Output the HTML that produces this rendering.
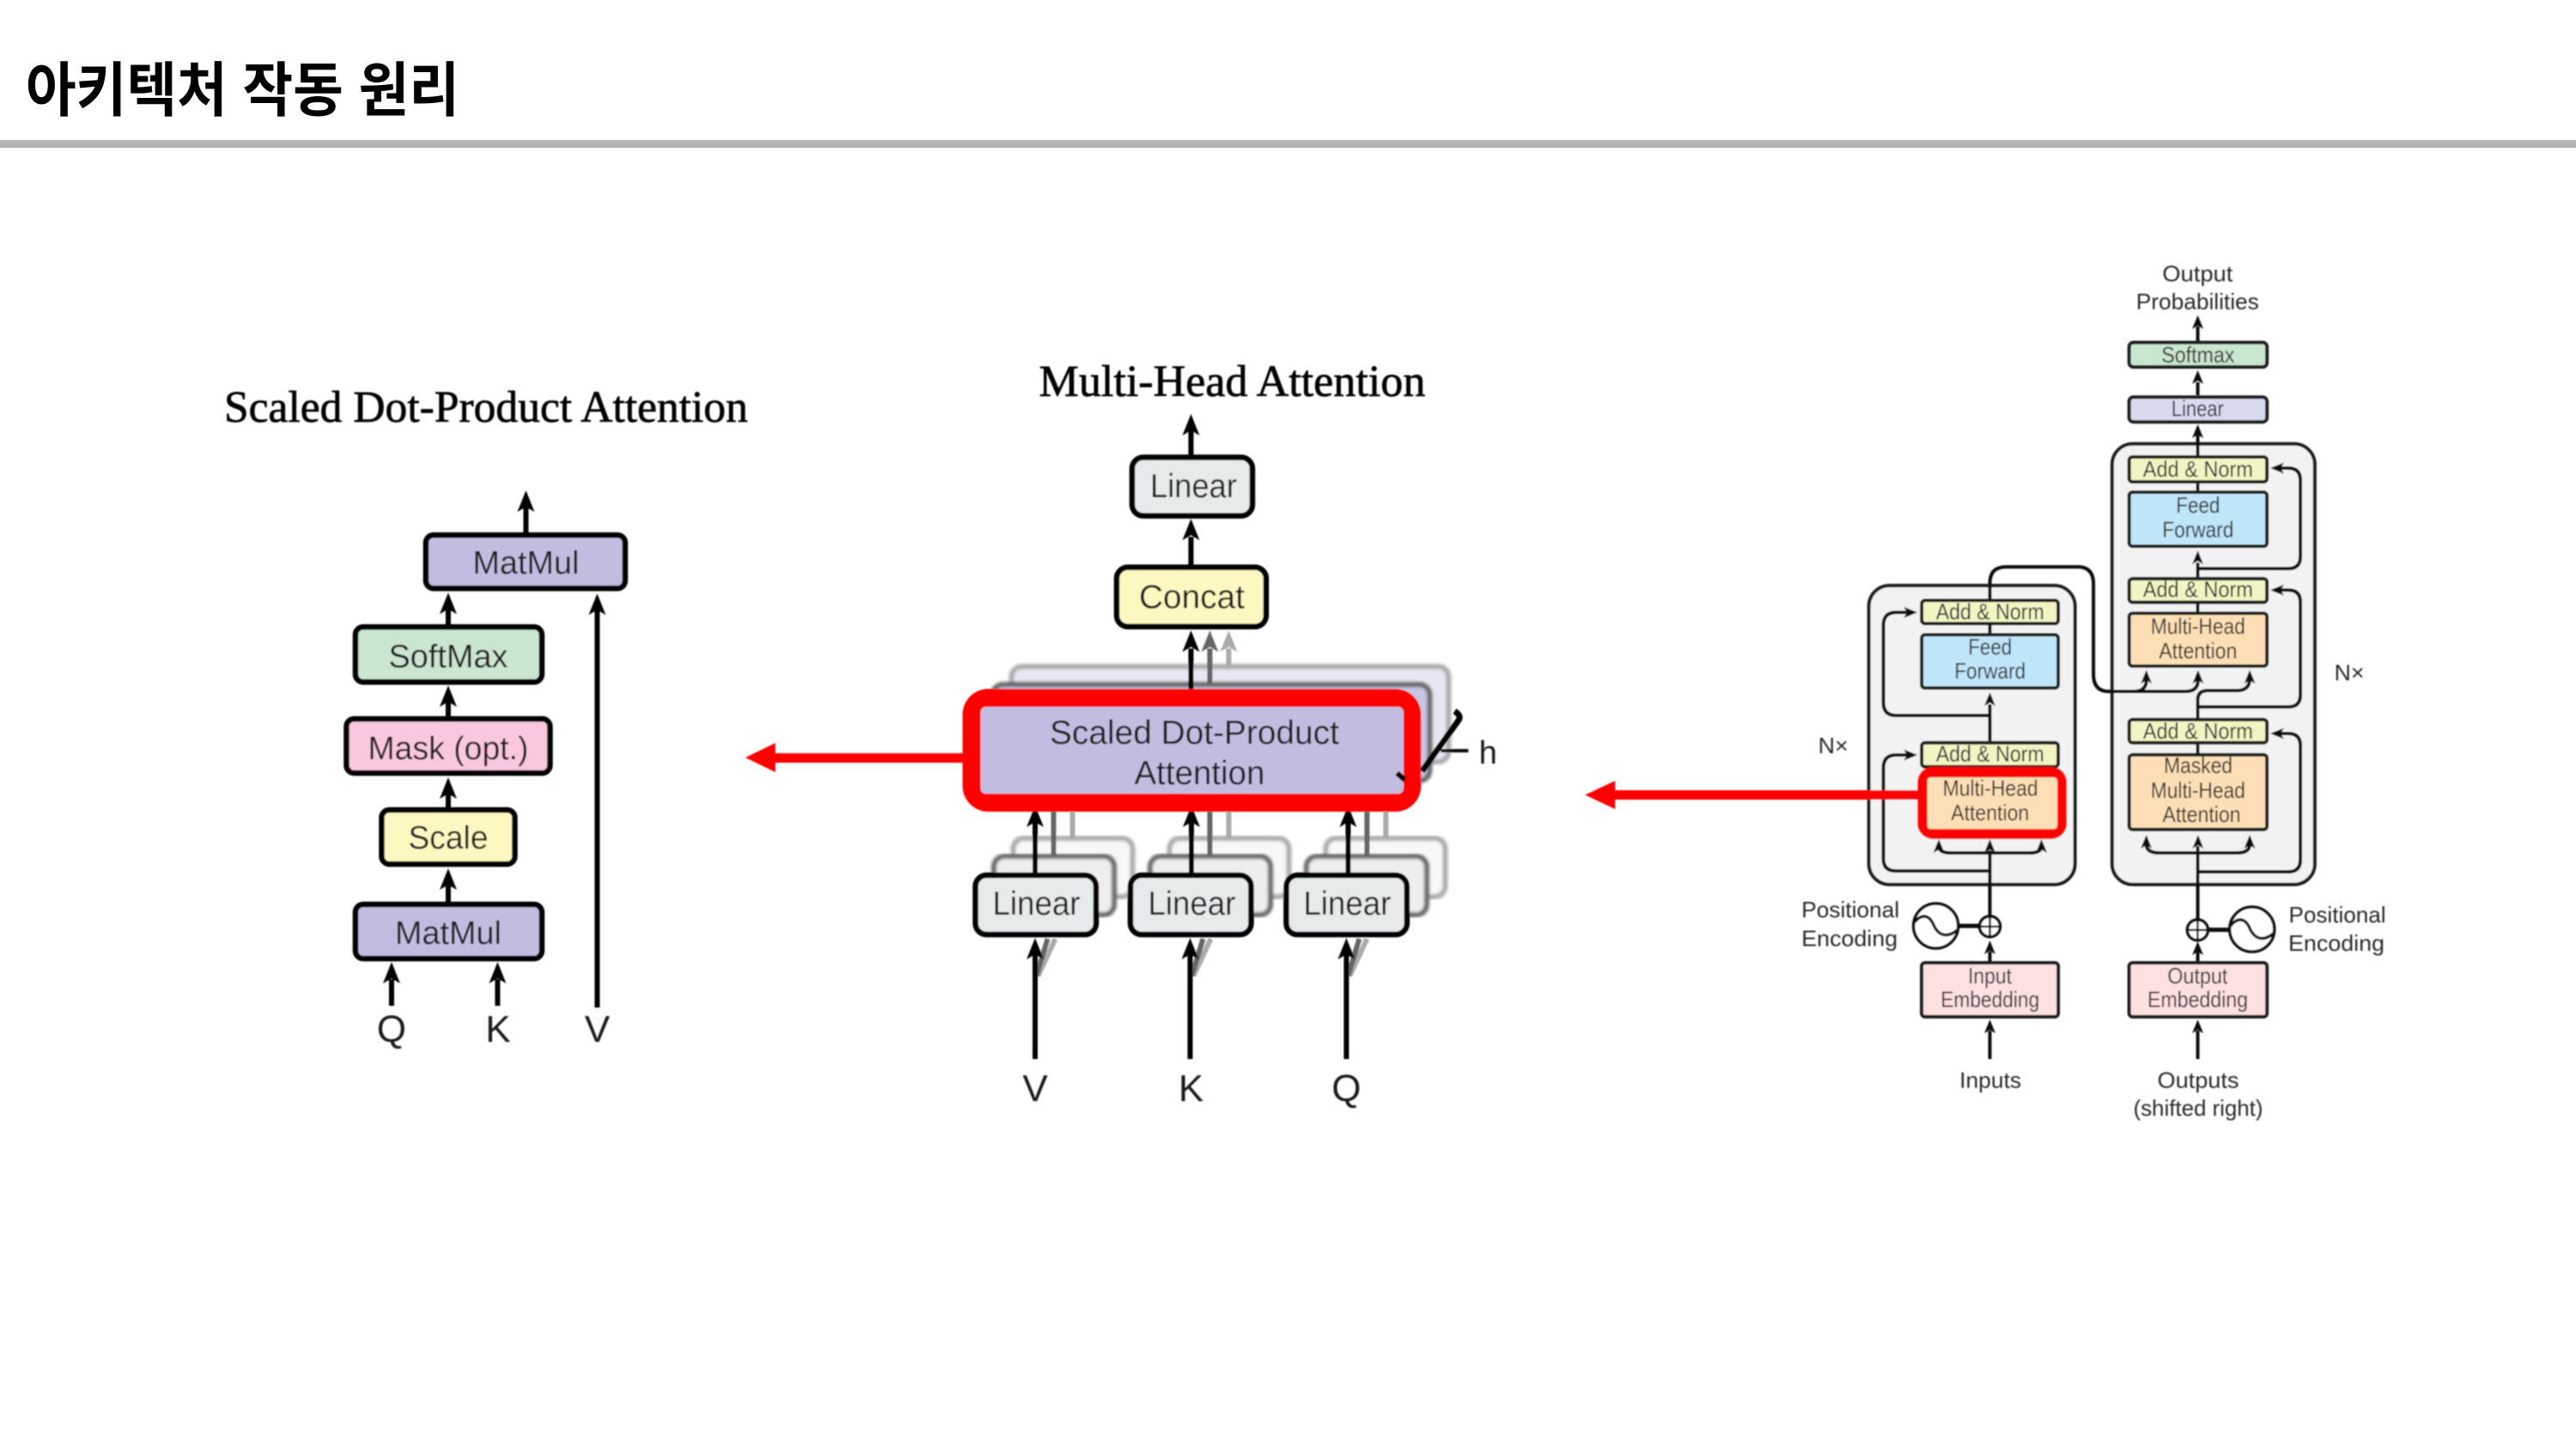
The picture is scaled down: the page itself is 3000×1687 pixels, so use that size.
<!DOCTYPE html>
<html lang="ko"><head><meta charset="utf-8"><title>아키텍처 작동 원리</title>
<style>
html,body{margin:0;padding:0;background:#fff}
svg{display:block}
text{font-family:"Liberation Sans","Noto Sans CJK KR",sans-serif;text-anchor:middle;fill:#1a1a1a}
.s{font-family:"Liberation Serif",serif;fill:#000;stroke:#000;stroke-width:.7}
.n{fill:none;stroke:#111;stroke-width:4}
.l{fill:none;stroke:#000;stroke-width:6}
.b{stroke:#000;stroke-width:6.5}
.r{stroke:#1a1a1a;stroke-width:4}
.t text{font-size:26px;fill:#2a2a2a}
</style></head><body>
<svg width="3000" height="1687" viewBox="0 0 3000 1687" xmlns="http://www.w3.org/2000/svg">
<defs>
<filter id="f" x="0" y="0" width="100%" height="100%"><feGaussianBlur stdDeviation="0.7"/></filter>
<filter id="f2" x="-5%" y="-5%" width="110%" height="110%"><feGaussianBlur stdDeviation="1.5"/></filter>
<path id="a" d="M0 0L10 25 0 19-10 25Z" fill="#000"/>
<path id="g" d="M0 0L10 25 0 19-10 25Z" fill="#666"/>
<path id="h" d="M0 0L10 25 0 19-10 25Z" fill="#aaa"/>
<path id="c" d="M0 0L6.5 16 0 12-6.5 16Z" fill="#111"/>
<path id="w" d="M-26-3C-17-15-8-13-3-2 2 10 12 16 26 4" fill="none" stroke="#111" stroke-width="3.5"/>
</defs>
<rect width="3000" height="1687" fill="#fff"/>
<text x="30" y="129" textLength="505" lengthAdjust="spacingAndGlyphs" style="text-anchor:start;font-family:'Noto Sans CJK KR','Liberation Sans',sans-serif;font-weight:700;font-size:69px;fill:#000">아키텍처 작동 원리</text>
<rect x="0" y="163" width="3000" height="9" fill="#b3b3b3"/>

<g filter="url(#f)">
<!-- LEFT -->
<text class="s" x="566" y="491" font-size="52" textLength="610" lengthAdjust="spacingAndGlyphs">Scaled Dot-Product Attention</text>
<g class="l">
<path d="M612.5 620V590M522 727V705M522 834V812M522 940V918M522 1050V1025M456 1171V1140M579.5 1171V1140M695.5 1173V710"/>
</g>
<use href="#a" x="612.5" y="571"/><use href="#a" x="522" y="690"/><use href="#a" x="522" y="798"/><use href="#a" x="522" y="905"/><use href="#a" x="522" y="1011"/><use href="#a" x="456" y="1120"/><use href="#a" x="579.5" y="1120"/><use href="#a" x="695.5" y="691"/>
<rect class="b" x="496" y="623" width="232" height="62" rx="9" fill="#c2bde0"/>
<rect class="b" x="414" y="730" width="217" height="64" rx="9" fill="#cbe6d0"/>
<rect class="b" x="403.500" y="837" width="237" height="63" rx="9" fill="#f9c8de"/>
<rect class="b" x="444.500" y="943" width="155" height="63" rx="9" fill="#fdf8c2"/>
<rect class="b" x="414" y="1053" width="217" height="63" rx="9" fill="#c2bde0"/>
<g font-size="38">
<text x="612.500" y="668" textLength="124" lengthAdjust="spacingAndGlyphs">MatMul</text>
<text x="522" y="777" textLength="139" lengthAdjust="spacingAndGlyphs">SoftMax</text>
<text x="522" y="884" textLength="187" lengthAdjust="spacingAndGlyphs">Mask (opt.)</text>
<text x="522" y="988" textLength="93" lengthAdjust="spacingAndGlyphs">Scale</text>
<text x="522" y="1099" textLength="124" lengthAdjust="spacingAndGlyphs">MatMul</text>
</g>
<g font-size="44">
<text x="456" y="1213">Q</text><text x="580" y="1213">K</text><text x="695.500" y="1213">V</text>
</g>
<rect x="900" y="877" width="225" height="11" fill="#f00"/>
<path d="M868 882L903 865 903 899Z" fill="#f00"/>

<!-- MIDDLE -->
<text class="s" x="1435" y="461" font-size="52" textLength="450" lengthAdjust="spacingAndGlyphs">Multi-Head Attention</text>
<rect x="1178" y="776" width="509" height="111" rx="12" fill="#e8e6f2" stroke="#aaa" stroke-width="6" filter="url(#f2)"/>
<rect x="1156" y="797" width="509" height="112" rx="12" fill="#c9c5e2" stroke="#666" stroke-width="6" filter="url(#f2)"/>
<path d="M1409 797V755" stroke="#666" stroke-width="6"/>
<path d="M1431 776V755" stroke="#aaa" stroke-width="6"/>
<path d="M1387 810V755M1387 530V500M1387 660V625" class="l"/>
<use href="#a" x="1387" y="482"/><use href="#a" x="1387" y="604"/><use href="#a" x="1387" y="734"/><use href="#g" x="1409" y="734"/><use href="#h" x="1431" y="734"/>
<rect class="b" x="1318.500" y="532.500" width="140" height="68" rx="13" fill="#e6eaea"/>
<rect class="b" x="1300.500" y="660.500" width="174" height="69" rx="13" fill="#fdf8c2"/>
<text x="1390" y="579" font-size="39" textLength="101" lengthAdjust="spacingAndGlyphs">Linear</text>
<text x="1388" y="708" font-size="39" textLength="123" lengthAdjust="spacingAndGlyphs">Concat</text>
<!-- h bracket -->
<path d="M1656 898L1699 838Q1702 833 1694 828" fill="none" stroke="#000" stroke-width="7"/>
<path d="M1678 874H1710" stroke="#111" stroke-width="4"/>
<text x="1733" y="889" font-size="38">h</text>
<!-- lower Linear stacks -->
<rect x="1180" y="976" width="139" height="68" rx="12" fill="#f8f8f8" stroke="#aaa" stroke-width="6" filter="url(#f2)"/>
<path d="M1249 976V940" stroke="#aaa" stroke-width="6"/>
<rect x="1157.500" y="997" width="140" height="68" rx="12" fill="#eee" stroke="#666" stroke-width="6" filter="url(#f2)"/>
<path d="M1227 997V940" stroke="#666" stroke-width="6"/>
<path d="M1229 1093L1209 1136" stroke="#aaa" stroke-width="6"/>
<path d="M1220 1093L1207 1136" stroke="#666" stroke-width="6"/>
<rect x="1362" y="976" width="139" height="68" rx="12" fill="#f8f8f8" stroke="#aaa" stroke-width="6" filter="url(#f2)"/>
<path d="M1431 976V940" stroke="#aaa" stroke-width="6"/>
<rect x="1339.500" y="997" width="140" height="68" rx="12" fill="#eee" stroke="#666" stroke-width="6" filter="url(#f2)"/>
<path d="M1409 997V940" stroke="#666" stroke-width="6"/>
<path d="M1410 1093L1390 1136" stroke="#aaa" stroke-width="6"/>
<path d="M1401 1093L1388 1136" stroke="#666" stroke-width="6"/>
<rect x="1544" y="976" width="139" height="68" rx="12" fill="#f8f8f8" stroke="#aaa" stroke-width="6" filter="url(#f2)"/>
<path d="M1614 976V940" stroke="#aaa" stroke-width="6"/>
<rect x="1521.500" y="997" width="140" height="68" rx="12" fill="#eee" stroke="#666" stroke-width="6" filter="url(#f2)"/>
<path d="M1592 997V940" stroke="#666" stroke-width="6"/>
<path d="M1592 1093L1572 1136" stroke="#aaa" stroke-width="6"/>
<path d="M1583 1093L1570 1136" stroke="#666" stroke-width="6"/>
<path d="M1205.500 1016V950M1387.500 1016V950M1570 1016V950M1205.500 1233V1105M1386 1233V1105M1568 1233V1105" class="l"/>
<use href="#a" x="1205.500" y="938"/><use href="#a" x="1387.500" y="938"/><use href="#a" x="1570" y="938"/>
<use href="#a" x="1205.500" y="1092"/><use href="#a" x="1386" y="1092"/><use href="#a" x="1568" y="1092"/>
<rect class="b" x="1136" y="1019" width="140.500" height="69" rx="13" fill="#e6eaea"/>
<rect class="b" x="1316.500" y="1019" width="140.500" height="69" rx="13" fill="#e6eaea"/>
<rect class="b" x="1498" y="1019" width="140.500" height="69" rx="13" fill="#e6eaea"/>
<g font-size="39">
<text x="1207" y="1065" textLength="102" lengthAdjust="spacingAndGlyphs">Linear</text>
<text x="1388" y="1065" textLength="102" lengthAdjust="spacingAndGlyphs">Linear</text>
<text x="1569" y="1065" textLength="102" lengthAdjust="spacingAndGlyphs">Linear</text>
</g>
<g font-size="44">
<text x="1205.500" y="1282">V</text><text x="1387" y="1282">K</text><text x="1568" y="1282">Q</text>
</g>
<!-- red highlight -->
<rect x="1121" y="802" width="534" height="143" rx="30" fill="#f00"/>
<rect x="1142" y="823" width="492.500" height="101" rx="6" fill="#c2bde0"/>
<path d="M1627 900L1636 908" fill="none" stroke="#000" stroke-width="6"/>
<g font-size="39">
<text x="1391" y="866" textLength="337" lengthAdjust="spacingAndGlyphs">Scaled Dot-Product</text>
<text x="1397" y="913" textLength="152" lengthAdjust="spacingAndGlyphs">Attention</text>
</g>

<!-- RIGHT -->
<rect class="r" x="2176.500" y="681.700" width="240" height="348" rx="24" fill="#f2f2f2"/>
<rect class="r" x="2459.800" y="516.700" width="236" height="513" rx="24" fill="#f2f2f2"/>
<g class="n">
<path d="M2559.500 397V380M2559.500 460V445M2559.500 530V505M2559.500 563V571M2559.500 672V655M2559.500 703V712M2559.500 836V815Q2559.500 804 2571 804H2605Q2620 804 2620 790V790M2559.500 866V877"/>
<path d="M2559.500 662H2665Q2679 662 2679 648V559Q2679 545 2665 545H2652"/>
<path d="M2559.500 823H2665Q2679 823 2679 809V701Q2679 687 2665 687H2652"/>
<path d="M2559.500 1015H2665Q2679 1015 2679 1001V868Q2679 854 2665 854H2652"/>
<path d="M2559.500 1070V985M2499.600 983Q2499.600 993 2515 993H2605Q2620 993 2620 983"/>
<path d="M2559.500 1119V1108M2559.500 1233V1200"/>
<path d="M2317.400 697V679Q2317.400 660 2336 660H2420Q2438 660 2438 680V785Q2438 805 2456 805H2545Q2559.800 805 2559.800 792M2485 805Q2499.600 805 2499.600 792"/>
<path d="M2317.400 862.700V820M2317.400 728V737"/>
<path d="M2317.400 833H2208Q2193.400 833 2193.400 818V728Q2193.400 713 2208 713H2224"/>
<path d="M2317.400 1014H2208Q2193.400 1014 2193.400 1000V894Q2193.400 879 2208 879H2224"/>
<path d="M2317.400 1066V990M2258 985Q2258 993 2272 993H2364Q2377.500 993 2377.500 985"/>
<path d="M2317.400 1119V1108M2317.400 1233V1200"/>
</g>
<use href="#c" x="2559.500" y="367"/><use href="#c" x="2559.500" y="431"/><use href="#c" x="2559.500" y="494"/><use href="#c" x="2559.500" y="641"/>
<use href="#c" x="2499.600" y="780"/><use href="#c" x="2559.800" y="780"/><use href="#c" x="2620" y="780"/>
<use href="#c" x="2499.600" y="972"/><use href="#c" x="2559.800" y="972"/><use href="#c" x="2620" y="972"/>
<use href="#c" x="2559.500" y="1096"/><use href="#c" x="2559.500" y="1187"/>
<use href="#c" x="2317.400" y="806"/><use href="#c" x="2317.400" y="1095"/><use href="#c" x="2317.400" y="1187"/>
<use href="#c" transform="translate(2644 545) rotate(-90)"/><use href="#c" transform="translate(2644 687) rotate(-90)"/><use href="#c" transform="translate(2644 854) rotate(-90)"/>
<use href="#c" transform="translate(2233 713) rotate(90)"/><use href="#c" transform="translate(2233 879) rotate(90)"/>
<g class="r">
<rect x="2479.600" y="398.800" width="160.500" height="28.500" rx="5" fill="#c9e6cf"/>
<rect x="2479.600" y="462.400" width="160.500" height="28.800" rx="5" fill="#d8daf0"/>
<rect x="2479.600" y="532" width="160.500" height="29" rx="4" fill="#f1f5c3"/>
<rect x="2479.600" y="573" width="160.500" height="63" rx="4" fill="#bfe5f8"/>
<rect x="2479.600" y="673.800" width="160.500" height="27.500" rx="4" fill="#f1f5c3"/>
<rect x="2479.600" y="714" width="160.500" height="61.500" rx="4" fill="#fddfb6"/>
<rect x="2479.600" y="837.700" width="160.500" height="27" rx="4" fill="#f1f5c3"/>
<rect x="2479.600" y="878.700" width="160.500" height="87" rx="4" fill="#fddfb6"/>
<rect x="2479.600" y="1121" width="160.500" height="62.700" rx="4" fill="#fde0e0"/>
<rect x="2238" y="699" width="159" height="27" rx="4" fill="#f1f5c3"/>
<rect x="2238" y="739" width="159" height="62" rx="4" fill="#bfe5f8"/>
<rect x="2238" y="864.700" width="159" height="28" rx="4" fill="#f1f5c3"/>
<rect x="2238" y="1121" width="159" height="62.700" rx="4" fill="#fde0e0"/>
</g>
<!-- encoding circles -->
<g fill="#fff" stroke="#111" stroke-width="3.500">
<circle cx="2254.500" cy="1078" r="26"/><circle cx="2622.700" cy="1082" r="26"/>
<circle cx="2317.400" cy="1078.700" r="12"/><circle cx="2559.300" cy="1082.700" r="12"/>
</g>
<use href="#w" x="2254.500" y="1078"/><use href="#w" x="2622.700" y="1082"/>
<path d="M2280.500 1078H2305.400M2571.300 1082.500H2596.700" stroke="#111" stroke-width="5"/>
<path d="M2305.400 1078.700H2329.400M2317.400 1066.700V1090.700M2547.300 1082.700H2571.300M2559.300 1070.700V1094.700" stroke="#111" stroke-width="2.500"/>
<!-- red enc highlight -->
<rect x="2233" y="892.700" width="174" height="84" rx="18" fill="#f00"/>
<rect x="2244.400" y="905" width="151.600" height="60.300" rx="4" fill="#fddfb6"/>
<use href="#c" x="2258" y="977"/><use href="#c" x="2317.400" y="977"/><use href="#c" x="2377.500" y="977"/>
<rect x="1875" y="920" width="360" height="11" fill="#f00"/>
<path d="M1846 925.500L1881 909 1881 942Z" fill="#f00"/>
<g class="t">
<text x="2559.300" y="327.500" textLength="82" lengthAdjust="spacingAndGlyphs">Output</text>
<text x="2559.300" y="360" textLength="143" lengthAdjust="spacingAndGlyphs">Probabilities</text>
<text x="2559.800" y="421.800" textLength="85" lengthAdjust="spacingAndGlyphs">Softmax</text>
<text x="2559.300" y="484.300" textLength="61" lengthAdjust="spacingAndGlyphs">Linear</text>
<text x="2559.800" y="555" textLength="128" lengthAdjust="spacingAndGlyphs">Add &amp; Norm</text>
<text x="2559.800" y="597" textLength="51" lengthAdjust="spacingAndGlyphs">Feed</text>
<text x="2559.800" y="625.400" textLength="83" lengthAdjust="spacingAndGlyphs">Forward</text>
<text x="2559.800" y="695" textLength="128" lengthAdjust="spacingAndGlyphs">Add &amp; Norm</text>
<text x="2559.800" y="737.900" textLength="110" lengthAdjust="spacingAndGlyphs">Multi-Head</text>
<text x="2559.800" y="766.400" textLength="91" lengthAdjust="spacingAndGlyphs">Attention</text>
<text x="2559.800" y="860" textLength="128" lengthAdjust="spacingAndGlyphs">Add &amp; Norm</text>
<text x="2560" y="900" textLength="80" lengthAdjust="spacingAndGlyphs">Masked</text>
<text x="2559.800" y="929" textLength="110" lengthAdjust="spacingAndGlyphs">Multi-Head</text>
<text x="2564" y="957" textLength="91" lengthAdjust="spacingAndGlyphs">Attention</text>
<text x="2559.300" y="1145" textLength="70" lengthAdjust="spacingAndGlyphs">Output</text>
<text x="2559.500" y="1172.700" textLength="117" lengthAdjust="spacingAndGlyphs">Embedding</text>
<text x="2560" y="1266.700" textLength="95" lengthAdjust="spacingAndGlyphs">Outputs</text>
<text x="2560" y="1299" textLength="151" lengthAdjust="spacingAndGlyphs">(shifted right)</text>
<text x="2722" y="1074" textLength="113" lengthAdjust="spacingAndGlyphs">Positional</text>
<text x="2721" y="1107" textLength="112" lengthAdjust="spacingAndGlyphs">Encoding</text>
<text x="2736" y="792" textLength="35" lengthAdjust="spacingAndGlyphs">N×</text>
<text x="2317.600" y="721" textLength="126" lengthAdjust="spacingAndGlyphs">Add &amp; Norm</text>
<text x="2317.600" y="762" textLength="51" lengthAdjust="spacingAndGlyphs">Feed</text>
<text x="2317.600" y="790" textLength="83" lengthAdjust="spacingAndGlyphs">Forward</text>
<text x="2317.600" y="886.700" textLength="126" lengthAdjust="spacingAndGlyphs">Add &amp; Norm</text>
<text x="2318" y="926.700" textLength="111" lengthAdjust="spacingAndGlyphs">Multi-Head</text>
<text x="2317.600" y="955" textLength="91" lengthAdjust="spacingAndGlyphs">Attention</text>
<text x="2317.400" y="1145" textLength="51" lengthAdjust="spacingAndGlyphs">Input</text>
<text x="2317.600" y="1172.700" textLength="115" lengthAdjust="spacingAndGlyphs">Embedding</text>
<text x="2318" y="1266.700" textLength="72" lengthAdjust="spacingAndGlyphs">Inputs</text>
<text x="2155" y="1068" textLength="114" lengthAdjust="spacingAndGlyphs">Positional</text>
<text x="2154" y="1101.700" textLength="112" lengthAdjust="spacingAndGlyphs">Encoding</text>
<text x="2135" y="877" textLength="35" lengthAdjust="spacingAndGlyphs">N×</text>
</g>
</g>
</svg>
</body></html>
